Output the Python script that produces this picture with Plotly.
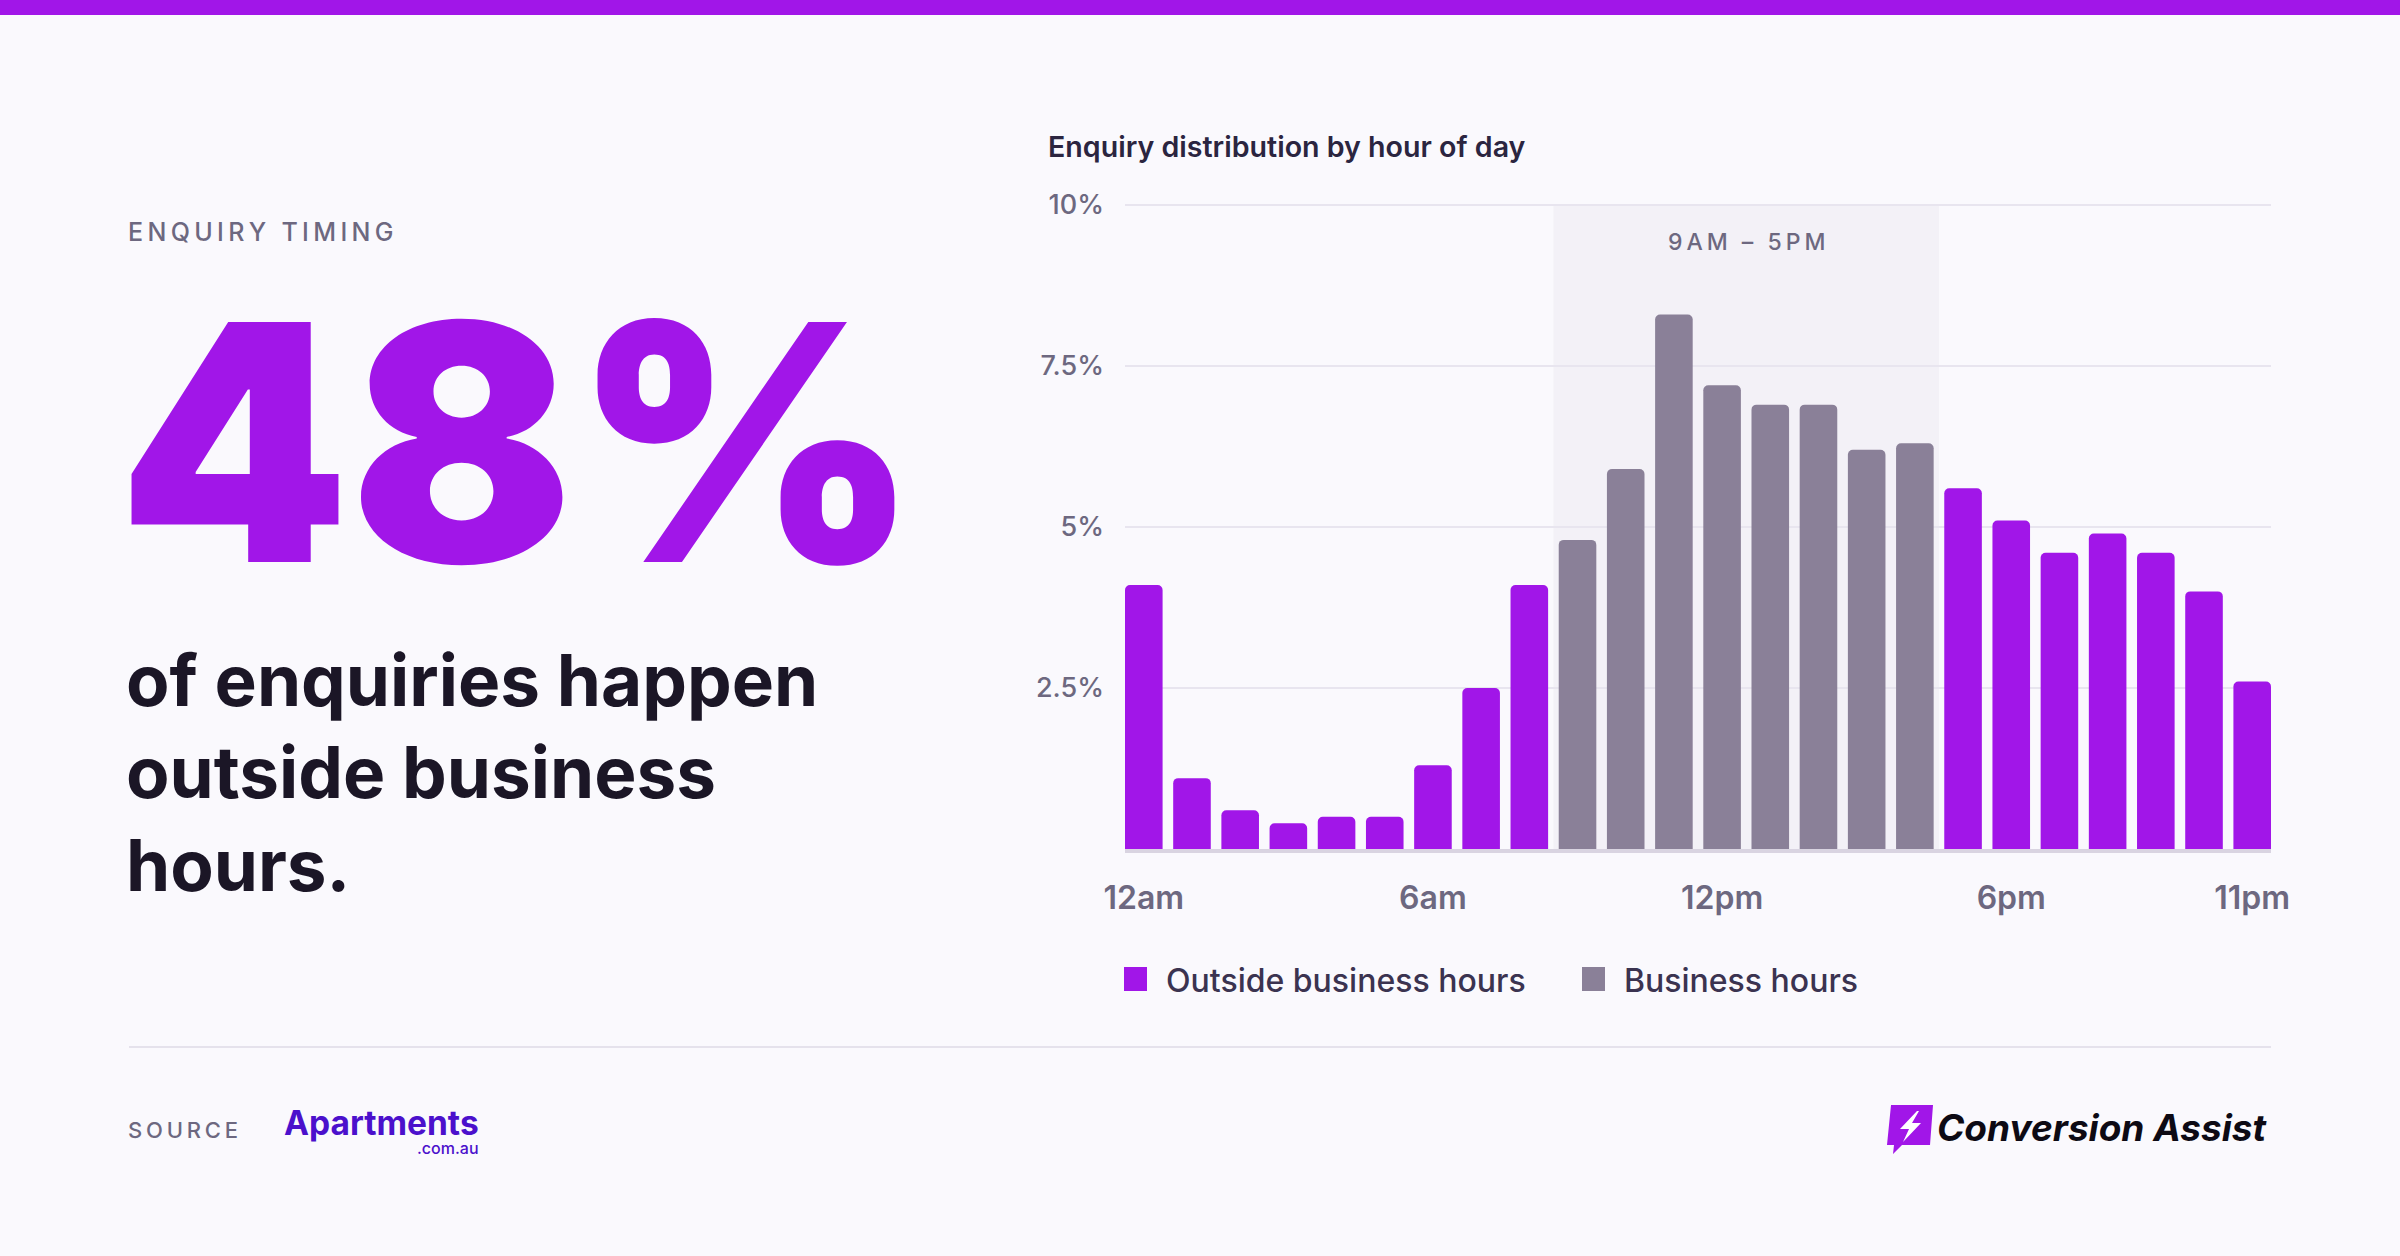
import plotly.graph_objects as go

W, H = 2400, 1256

# data (share of enquiries per hour, %)
hours = list(range(24))
share = [4.1, 1.1, 0.6, 0.4, 0.5, 0.5, 1.3, 2.5, 4.1, 4.8, 5.9, 8.3,
         7.2, 6.9, 6.9, 6.2, 6.3, 5.6, 5.1, 4.6, 4.9, 4.6, 4.0, 2.6]
business_start, business_end = 9, 17
series_names = ["Outside business hours", "Business hours"]
x_tickvals = [0, 6, 12, 18, 23]
x_ticktext = ["12am", "6am", "12pm", "6pm", "11pm"]
y_tickvals = [2.5, 5, 7.5, 10]
y_ticktext = ["2.5%", "5%", "7.5%", "10%"]
headline = "48%"
kicker = "ENQUIRY TIMING"
subline = ["of enquiries happen", "outside business", "hours."]
chart_title = "Enquiry distribution by hour of day"
band_label = "9AM – 5PM"

BG = "#FAF9FD"
PURPLE = "#A116E8"
GREY = "#8A8098"
BAND = "#F3F1F7"
GRID = "#E8E5EF"
AXIS = "#D9D4E1"
MUTED = "#6D6880"
INK = "#1B1626"
FONT = "Inter, Noto Sans, sans-serif"

Y_TOP = 10.2  # a little headroom so the 10% gridline is drawn


def px(x):
    return x / W


def py(y):
    return 1 - y / H


def spaced(s, sep="\u2009"):
    return sep.join(s)


def poly(points):
    return "M " + " L ".join(f"{px(x):.5f},{py(y):.5f}" for x, y in points) + " Z"


outside_x = [h for h in hours if not business_start <= h < business_end]
outside_y = [share[h] for h in outside_x]
inside_x = [h for h in hours if business_start <= h < business_end]
inside_y = [share[h] for h in inside_x]

fig = go.Figure()
fig.add_trace(go.Bar(x=outside_x, y=outside_y, name=series_names[0],
                     marker=dict(color=PURPLE, line_width=0)))
fig.add_trace(go.Bar(x=inside_x, y=inside_y, name=series_names[1],
                     marker=dict(color=GREY, line_width=0)))

shapes = [
    # top accent strip
    dict(type="rect", xref="paper", yref="paper", x0=0, x1=1, y0=py(15), y1=1,
         fillcolor=PURPLE, line_width=0),
    # business-hours band
    dict(type="rect", xref="x", yref="y", x0=business_start - 0.5,
         x1=business_end - 0.5, y0=0, y1=10, fillcolor=BAND, line_width=0,
         layer="below"),
    # footer rule
    dict(type="line", xref="paper", yref="paper", x0=px(129), x1=px(2271),
         y0=py(1047), y1=py(1047), line=dict(color="#E5E2EC", width=2)),
    # legend swatches
    dict(type="rect", xref="paper", yref="paper", x0=px(1124), x1=px(1147),
         y0=py(991), y1=py(967), fillcolor=PURPLE, line_width=0),
    dict(type="rect", xref="paper", yref="paper", x0=px(1582), x1=px(1605),
         y0=py(991), y1=py(967), fillcolor=GREY, line_width=0),
    # conversion assist icon
    dict(type="path", xref="paper", yref="paper",
         path=poly([(1891, 1105), (1933, 1105), (1930, 1145), (1902, 1145),
                    (1893, 1154), (1894, 1145), (1887, 1145)]),
         fillcolor=PURPLE, line_width=0),
    dict(type="path", xref="paper", yref="paper",
         path=poly([(1917, 1111), (1900, 1129), (1909, 1129), (1903, 1142),
                    (1921, 1123), (1912, 1123), (1919, 1111)]),
         fillcolor="white", line_width=0),
]

annotations = [
    dict(x=px(126), y=py(232), text=spaced(kicker), xanchor="left",
         yanchor="middle", font=dict(size=25, color=MUTED, weight=500)),
    dict(x=px(116), y=py(442), text=headline, xanchor="left", yanchor="middle",
         font=dict(size=330, color=PURPLE, weight=900)),
    dict(x=px(124), y=py(772), text="<br>".join(subline), xanchor="left",
         yanchor="middle", align="left",
         font=dict(size=71, color=INK, weight=700)),
    dict(x=px(1046), y=py(146), text=chart_title, xanchor="left",
         yanchor="middle", font=dict(size=28.6, color="#2B2540", weight=600)),
    dict(x=12.5, y=py(242), xref="x", text=spaced(band_label),
         xanchor="center", yanchor="middle",
         font=dict(size=23, color=MUTED, weight=500)),
    dict(x=px(1164), y=py(980), text=series_names[0], xanchor="left",
         yanchor="middle", font=dict(size=32, color="#3B3350", weight=500)),
    dict(x=px(1622), y=py(980), text=series_names[1], xanchor="left",
         yanchor="middle", font=dict(size=32, color="#3B3350", weight=500)),
    dict(x=px(126), y=py(1130), text=spaced("SOURCE"), xanchor="left",
         yanchor="middle", font=dict(size=22, color=MUTED, weight=500)),
    dict(x=px(481), y=py(1123), text="Apartments", xanchor="right",
         yanchor="middle", font=dict(size=33.5, color="#4B10CC", weight=700)),
    dict(x=px(481), y=py(1148), text=".com.au", xanchor="right",
         yanchor="middle", font=dict(size=16, color="#4B10CC", weight=500)),
    dict(x=px(2270), y=py(1127), text="Conversion Assist", xanchor="right",
         yanchor="middle",
         font=dict(size=37, color="#0D0A14", weight=700, style="italic")),
]
for a in annotations:
    a.setdefault("xref", "paper")
    a["yref"] = "paper"
    a["showarrow"] = False

fig.update_layout(
    width=W, height=H, autosize=False,
    margin=dict(l=0, r=0, t=0, b=0, pad=0, autoexpand=False),
    paper_bgcolor=BG, plot_bgcolor="rgba(0,0,0,0)",
    font=dict(family=FONT),
    barmode="overlay", bargap=0.22, barcornerradius=5,
    showlegend=False,
    shapes=shapes, annotations=annotations,
    xaxis=dict(domain=[px(1125), px(2271)], range=[-0.39, 23.39],
               tickvals=x_tickvals, ticktext=x_ticktext,
               showgrid=False, zeroline=False, ticks="",
               showline=True, linecolor=AXIS, linewidth=4,
               ticklabelstandoff=18, automargin=False,
               tickfont=dict(size=32, color=MUTED, weight=600)),
    yaxis=dict(domain=[py(849), py(849 - Y_TOP * (849 - 205) / 10)],
               range=[0, Y_TOP],
               tickvals=y_tickvals, ticktext=y_ticktext,
               showgrid=True, gridcolor=GRID, gridwidth=2,
               zeroline=False, showline=False, ticks="",
               ticklabelstandoff=20, automargin=False,
               tickfont=dict(size=27, color=MUTED, weight=500)),
)

fig.write_html("out.html", config={"displayModeBar": False},
               post_script="document.body.style.margin='0';")
